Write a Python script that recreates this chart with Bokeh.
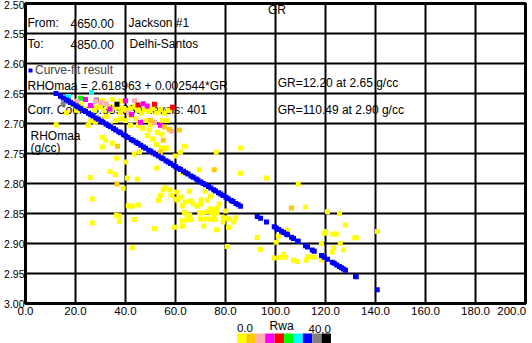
from bokeh.plotting import figure
from bokeh.layouts import column
from bokeh.models import (Range1d, FixedTicker, NumeralTickFormatter, Label, ColumnDataSource)
from bokeh.core.properties import value
from bokeh.transform import linear_cmap
from bokeh.embed import file_html
from bokeh.resources import INLINE

FONT = "Liberation Sans"

# ---------------- data ----------------
x_ticks = [0, 20, 40, 60, 80, 100, 120, 140, 160, 180, 200]
y_ticks = [2.50, 2.55, 2.60, 2.65, 2.70, 2.75, 2.80, 2.85, 2.90, 2.95, 3.00]

# scatter: GR (x), RHOmaa (y), Rwa (colour class)
gr = [
    22.0, 23.6, 25.6, 27.6, 28.4, 30.0, 31.2, 32.4, 33.2, 34.4,
    35.6, 37.2, 38.0, 39.2, 40.4, 42.0, 43.6, 45.2, 46.4, 47.6,
    49.2, 50.8, 52.4, 54.0, 55.6, 57.2, 34.7, 30.8, 38.0, 18.8,
    20.4, 16.4, 12.3, 25.1, 25.9, 30.7, 34.7, 32.0, 30.7, 36.5,
    40.0, 43.5, 45.6, 45.2, 49.5, 50.8, 48.7, 52.7, 54.5, 52.4,
    54.3, 56.4, 54.8, 56.7, 63.6, 86.0, 55.9, 59.9, 62.0, 76.3,
    52.4, 69.5, 86.0, 96.4, 62.8, 42.0, 44.0, 40.0, 38.0, 48.0,
    50.0, 46.8, 42.0, 36.0, 34.0, 30.0, 28.0,
    33.9, 36.0, 25.9, 40.8, 44.7, 39.1, 26.7, 41.1, 42.7, 45.1,
    36.4, 37.6, 37.5, 43.5, 26.7, 42.7,
    55.9, 55.1, 57.7, 54.0, 53.2, 58.3, 60.4, 59.9, 62.0, 60.9,
    65.5, 71.9, 74.0, 72.7, 63.9, 66.0, 67.1, 68.7, 70.0, 70.3,
    62.8, 77.5, 74.0, 75.9, 76.7, 63.6, 64.7, 65.7, 69.7, 71.1,
    72.7, 74.5, 75.3, 76.7, 65.5, 62.8, 64.4, 66.3, 70.0, 72.4,
    74.0, 75.9, 80.1, 79.1, 79.9, 81.5, 84.1, 83.3, 79.1, 59.6,
    62.8, 71.3, 76.4, 81.2, 51.6, 80.7, 92.7, 94.0,
    109.1, 112.0, 120.8, 125.6, 128.0, 140.8, 104.8, 101.1, 100.3, 120.0,
    119.5, 122.9, 124.3, 132.3, 131.7, 118.4, 125.9, 123.2, 122.7, 127.2,
    103.2, 101.9, 104.0, 99.5, 107.2, 108.8, 112.3, 112.8, 114.7, 115.5,
    118.4,
    26.4, 17.1, 22.0, 24.0, 28.4, 15.1, 26.0, 30.1, 32.3, 36.6,
    40.0, 43.6, 45.0, 47.1, 48.7, 51.6, 58.8, 46.0, 51.6, 54.0,
    58.5, 50.0, 55.6, 57.5, 61.5, 55.1, 36.8, 36.6, 54.0, 75.5,
    106.4, 28.0, 33.8, 41.2, 42.4, 20.4,
]
rhomaa = [
    2.668, 2.675, 2.683, 2.678, 2.673, 2.672, 2.678, 2.688, 2.672, 2.678,
    2.673, 2.673, 2.682, 2.675, 2.678, 2.675, 2.672, 2.678, 2.683, 2.677,
    2.680, 2.675, 2.682, 2.677, 2.683, 2.678, 2.660, 2.662, 2.663, 2.668,
    2.678, 2.682, 2.702, 2.703, 2.696, 2.723, 2.733, 2.728, 2.739, 2.758,
    2.764, 2.751, 2.747, 2.703, 2.711, 2.726, 2.720, 2.715, 2.718, 2.735,
    2.741, 2.741, 2.695, 2.695, 2.738, 2.741, 2.742, 2.754, 2.748, 2.748,
    2.774, 2.777, 2.783, 2.791, 2.782, 2.687, 2.692, 2.695, 2.692, 2.695,
    2.702, 2.708, 2.703, 2.695, 2.702, 2.692, 2.698,
    2.780, 2.785, 2.790, 2.791, 2.793, 2.808, 2.826, 2.837, 2.838, 2.836,
    2.853, 2.854, 2.863, 2.860, 2.866, 2.907,
    2.807, 2.811, 2.811, 2.820, 2.828, 2.820, 2.814, 2.826, 2.823, 2.828,
    2.813, 2.813, 2.821, 2.828, 2.831, 2.829, 2.834, 2.838, 2.834, 2.827,
    2.837, 2.834, 2.842, 2.844, 2.841, 2.848, 2.852, 2.853, 2.849, 2.849,
    2.847, 2.849, 2.853, 2.849, 2.860, 2.862, 2.861, 2.860, 2.859, 2.859,
    2.860, 2.860, 2.846, 2.857, 2.858, 2.859, 2.857, 2.864, 2.864, 2.873,
    2.871, 2.871, 2.877, 2.873, 2.875, 2.905, 2.890, 2.910,
    2.801, 2.839, 2.847, 2.850, 2.869, 2.880, 2.878, 2.888, 2.898, 2.880,
    2.883, 2.884, 2.884, 2.890, 2.891, 2.900, 2.900, 2.907, 2.914, 2.911,
    2.918, 2.923, 2.923, 2.924, 2.928, 2.930, 2.928, 2.922, 2.922, 2.923,
    2.927,
    2.648, 2.655, 2.658, 2.660, 2.661, 2.667, 2.670, 2.665, 2.667, 2.668,
    2.662, 2.662, 2.669, 2.667, 2.671, 2.668, 2.673, 2.698, 2.698, 2.703,
    2.713, 2.695, 2.706, 2.710, 2.711, 2.728, 2.738, 2.801, 2.748, 2.777,
    2.841, 2.663, 2.676, 2.682, 2.685, 2.663,
]
rwa = [
    2, 2, 2, 2, 2, 2, 2, 2, 2, 2,
    2, 2, 2, 2, 2, 2, 2, 2, 2, 2,
    2, 2, 2, 2, 2, 2, 2, 2, 2, 2,
    2, 2, 2, 2, 2, 2, 2, 2, 2, 2,
    2, 2, 2, 2, 2, 2, 2, 2, 2, 2,
    2, 2, 2, 2, 2, 2, 2, 2, 2, 2,
    2, 2, 2, 2, 2, 2, 2, 2, 2, 2,
    2, 2, 2, 2, 2, 2, 2,
    2, 2, 2, 2, 2, 2, 2, 2, 2, 2,
    2, 2, 2, 2, 2, 2,
    2, 2, 2, 2, 2, 2, 2, 2, 2, 2,
    2, 2, 2, 2, 2, 2, 2, 2, 2, 2,
    2, 2, 2, 2, 2, 2, 2, 2, 2, 2,
    2, 2, 2, 2, 2, 2, 2, 2, 2, 2,
    2, 2, 2, 2, 2, 2, 2, 2, 2, 2,
    2, 2, 2, 2, 2, 2, 2, 2,
    2, 2, 2, 2, 2, 2, 2, 2, 2, 2,
    2, 2, 2, 2, 2, 2, 2, 2, 2, 2,
    2, 2, 2, 2, 2, 2, 2, 2, 2, 2,
    2,
    26, 26, 22, 14, 34, 34, 14, 10, 10, 38,
    14, 10, 18, 14, 14, 18, 18, 14, 10, 14,
    10, 6, 6, 6, 6, 6, 6, 6, 6, 6,
    6, 10, 14, 10, 14, 10,
]

# curve-fit result points (RHOmaa = 2.618963 + 0.002544*GR)
fit_gr = [
    12.2, 14.0, 15.1, 16.3, 17.2, 18.0, 19.1, 20.2, 21.0, 22.1,
    23.3, 24.0, 25.2, 26.1, 27.0, 28.2, 29.1, 30.3, 31.0, 32.2,
    33.1, 34.0, 35.2, 36.1, 37.3, 38.0, 39.2, 40.1, 41.0, 42.3,
    43.1, 44.2, 45.0, 46.1, 47.2, 48.0, 49.3, 50.1, 51.2, 52.0,
    53.1, 54.3, 55.0, 56.2, 57.1, 58.0, 59.2, 60.1, 61.3, 62.0,
    63.2, 64.1, 65.0, 66.2, 67.1, 68.3, 69.0, 70.2, 71.1, 72.0,
    73.2, 74.1, 75.3, 76.0, 77.2, 78.1, 79.0, 80.2, 81.1, 82.3,
    83.0, 84.2, 85.1, 86.0,
    92.7, 94.0, 96.4, 99.5, 100.3, 101.3, 102.4, 103.2, 104.3, 104.8,
    106.4, 107.2, 108.8, 109.1, 112.0, 112.8, 114.7, 115.5, 118.4, 119.5,
    120.8, 122.7, 123.5, 124.5, 125.6, 126.4, 127.2, 128.0, 132.0, 132.3,
    140.7,
]
fit_rhomaa = [
    2.6500, 2.6546, 2.6574, 2.6604, 2.6627, 2.6648, 2.6676, 2.6704, 2.6724, 2.6752,
    2.6782, 2.6800, 2.6831, 2.6854, 2.6877, 2.6907, 2.6930, 2.6960, 2.6978, 2.7009,
    2.7032, 2.7055, 2.7085, 2.7108, 2.7139, 2.7156, 2.7187, 2.7210, 2.7233, 2.7266,
    2.7286, 2.7314, 2.7334, 2.7362, 2.7390, 2.7411, 2.7444, 2.7464, 2.7492, 2.7513,
    2.7541, 2.7571, 2.7589, 2.7619, 2.7642, 2.7665, 2.7696, 2.7719, 2.7749, 2.7767,
    2.7797, 2.7820, 2.7843, 2.7874, 2.7897, 2.7927, 2.7945, 2.7976, 2.7998, 2.8021,
    2.8052, 2.8075, 2.8105, 2.8123, 2.8154, 2.8177, 2.8199, 2.8230, 2.8253, 2.8283,
    2.8301, 2.8332, 2.8355, 2.8378,
    2.8548, 2.8581, 2.8642, 2.8721, 2.8741, 2.8767, 2.8795, 2.8815, 2.8843, 2.8856,
    2.8896, 2.8917, 2.8958, 2.8965, 2.9039, 2.9059, 2.9108, 2.9128, 2.9202, 2.9230,
    2.9263, 2.9311, 2.9331, 2.9357, 2.9385, 2.9405, 2.9426, 2.9446, 2.9548, 2.9555,
    2.9769,
]

# Rwa colour key: 10 classes from 0 to 40
rwa_palette = ["#FFFF00", "#FFC800", "#FFAFAF", "#FF00FF", "#FF0000",
               "#00FF00", "#00FFFF", "#0000FF", "#808080", "#000000"]
rwa_low, rwa_high = 0.0, 40.0
rwa_edges = [0, 4, 8, 12, 16, 20, 24, 28, 32, 36, 40]

# ---------------- main figure ----------------
p = figure(width=532, height=319, x_range=Range1d(0, 200), y_range=Range1d(3.0, 2.5),
           toolbar_location=None, output_backend="svg",
           min_border_left=25, min_border_right=7, min_border_top=3, min_border_bottom=16)
p.background_fill_color = "white"
p.border_fill_color = "white"
p.outline_line_color = "black"
p.outline_line_width = 3
p.outline_line_alpha = 1.0

p.xaxis.ticker = FixedTicker(ticks=x_ticks)
p.yaxis.ticker = FixedTicker(ticks=y_ticks)
p.xaxis.formatter = NumeralTickFormatter(format="0.0")
p.yaxis.formatter = NumeralTickFormatter(format="0.00")
p.xaxis.major_label_overrides = {200: "200.0\u00a0\u00a0"}
for ax in (p.xaxis, p.yaxis):
    ax.axis_line_color = None
    ax.major_tick_line_color = None
    ax.minor_tick_line_color = None
    ax.major_tick_out = 0
    ax.major_tick_in = 0
    ax.minor_tick_out = 0
    ax.minor_tick_in = 0
    ax.axis_label_standoff = 0
    ax.major_label_text_font = FONT
    ax.major_label_text_color = "black"
p.xaxis.major_label_text_font_size = "11.5px"
p.yaxis.major_label_text_font_size = "10.5px"
p.xaxis.major_label_standoff = 1
p.yaxis.major_label_standoff = 1

p.xgrid.ticker = FixedTicker(ticks=x_ticks[1:-1])
p.ygrid.ticker = FixedTicker(ticks=y_ticks[1:-1])
p.grid.grid_line_color = "black"
p.grid.grid_line_width = 2
p.grid.grid_line_alpha = 1.0


def label(x, y, text):
    p.add_layout(Label(x=x, y=y, text=text, text_font=FONT, text_font_size="12px",
                       text_color="black", text_baseline="middle", text_align="left",
                       level="underlay"))


label(0.8, 2.5333, "From:")
label(18.0, 2.5333, "4650.00")
label(41.2, 2.5333, "Jackson #1")
label(0.8, 2.5683, "To:")
label(18.0, 2.5683, "4850.00")
label(41.6, 2.5683, "Delhi-Santos")
label(0.8, 2.6367, "RHOmaa = 2.618963 + 0.002544*GR")
label(100.9, 2.6333, "GR=12.20 at 2.65 g/cc")
label(0.8, 2.6783, "Corr. Coef.: 0.839330 Levels: 401")
label(100.9, 2.6783, "GR=110.49 at 2.90 g/cc")
label(2.0, 2.72, "RHOmaa")
label(2.0, 2.74, "(g/cc)")
label(97.0, 2.51, "GR")

src = ColumnDataSource(dict(gr=gr, rhomaa=rhomaa, rwa=rwa))
p.scatter("gr", "rhomaa", source=src, marker="square", size=5, line_color=None,
          fill_color=linear_cmap("rwa", rwa_palette, rwa_low, rwa_high))

p.scatter(fit_gr, fit_rhomaa, marker="square", size=5, line_color=None,
          fill_color="#0000FF", legend_label="Curve-fit result")

lg = p.legend[0]
lg.location = (0, 226)
lg.border_line_color = None
lg.background_fill_alpha = 0
lg.padding = 0
lg.margin = 0
lg.spacing = 0
lg.glyph_width = 10
lg.glyph_height = 10
lg.label_standoff = 0
lg.label_height = 12
lg.label_text_font = FONT
lg.label_text_font_size = "12px"
lg.level = "underlay"

# ---------------- Rwa colour key strip ----------------
# 2.5 px per Rwa unit, key starts at x = 225 px of the page
k = figure(width=532, height=24, x_range=Range1d(-90, 122.8), y_range=Range1d(24, 0),
           toolbar_location=None, output_backend="svg", x_axis_type=None, y_axis_type=None,
           min_border=0)
k.grid.visible = False
k.outline_line_color = None
k.background_fill_color = "white"
k.border_fill_color = "white"
k.quad(left=rwa_edges[:-1], right=rwa_edges[1:], top=14, bottom=24,
       fill_color=rwa_palette, line_color=None)
k.text(x=[rwa_low], y=[8.5], text=[f"{rwa_low:.1f}"], text_align="left",
       text_baseline="middle", text_font=value(FONT), text_font_size="11.5px",
       text_color="black")
k.text(x=[rwa_high], y=[9.0], text=[f"{rwa_high:.1f}"], text_align="right",
       text_baseline="middle", text_font=value(FONT), text_font_size="11.5px",
       text_color="black")
k.text(x=[19.0], y=[6.5], text=["Rwa"], text_align="center",
       text_baseline="middle", text_font=value(FONT), text_font_size="12px", text_color="black")

layout = column(p, k, spacing=0)
open("out.html", "w").write(file_html(layout, INLINE))
